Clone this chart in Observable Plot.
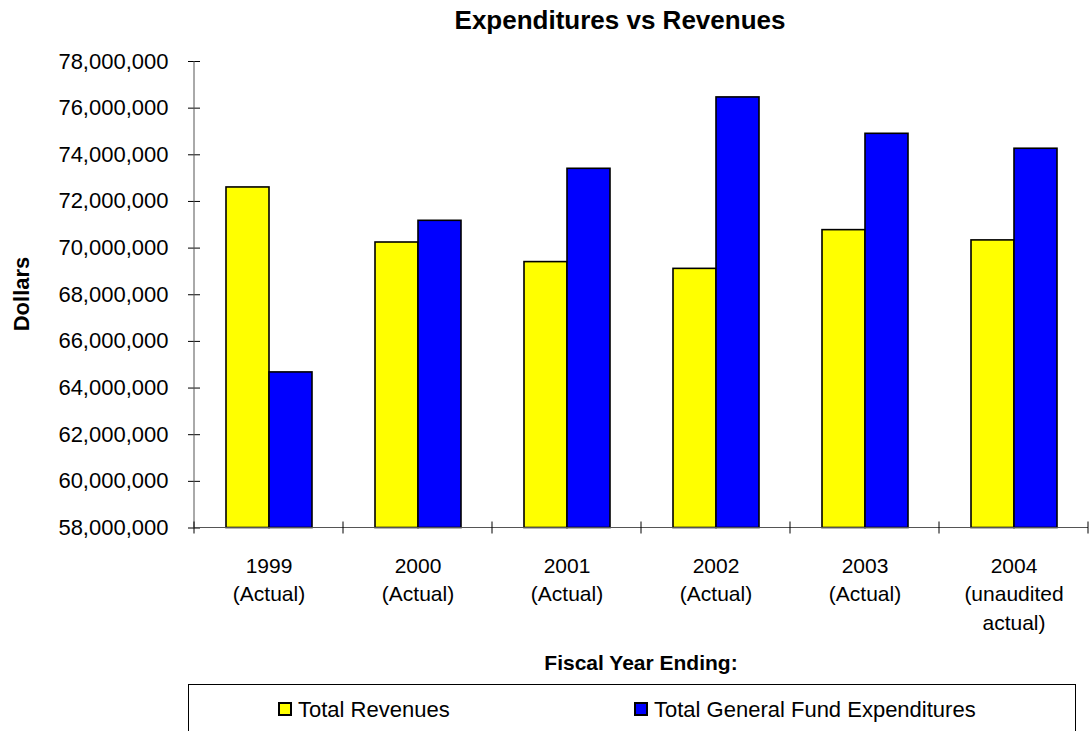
<!DOCTYPE html>
<html>
<head>
<meta charset="utf-8">
<script src="https://cdn.jsdelivr.net/npm/d3@7"></script>
<script src="https://cdn.jsdelivr.net/npm/@observablehq/plot@0.6"></script>
<style>
  html, body { margin: 0; padding: 0; background: #fff; }
  body { width: 1090px; height: 731px; position: relative; overflow: hidden;
         font-family: "Liberation Sans", Arial, sans-serif; color: #000; }
  #title { position: absolute; left: 620px; top: 7px; transform: translateX(-50%);
           font-weight: bold; font-size: 26px; line-height: 26px; white-space: nowrap; }
  #ylabel { position: absolute; left: 22px; top: 294px; transform: translate(-50%, -50%) rotate(-90deg);
            font-weight: bold; font-size: 22px; line-height: 22px; white-space: nowrap; }
  #chart { position: absolute; left: 0; top: 40px; }
  #xlabel { position: absolute; left: 641px; top: 652px; transform: translateX(-50%);
            font-weight: bold; font-size: 21px; line-height: 22px; white-space: nowrap; }
  #legend { position: absolute; left: 188px; top: 684px; width: 888px; height: 60px;
            border: 1px solid #000; box-sizing: border-box; }
  .item { position: absolute; top: 14px; font-size: 22px; line-height: 22px; white-space: nowrap; }
  .sw { display: inline-block; width: 10px; height: 10px; border: 2px solid #000;
        vertical-align: 1px; margin-right: 6px; }
</style>
</head>
<body>
<div id="title"></div>
<div id="ylabel"></div>
<div id="chart"></div>
<div id="xlabel"></div>
<div id="legend"></div>
<script>
// ---- Data ----
const categories = ["1999", "2000", "2001", "2002", "2003", "2004"];
const categoryNotes = ["(Actual)", "(Actual)", "(Actual)", "(Actual)", "(Actual)", "(unaudited\nactual)"];
const seriesNames = ["Total Revenues", "Total General Fund Expenditures"];
const revenues = [72600000, 70240000, 69400000, 69110000, 70770000, 70330000];
const expenditures = [64670000, 71170000, 73400000, 76460000, 74900000, 74260000];
const seriesColors = ["#FFFF00", "#0000FF"];
const yTicks = [58000000, 60000000, 62000000, 64000000, 66000000, 68000000,
                70000000, 72000000, 74000000, 76000000, 78000000];
const titleText = "Expenditures vs Revenues";
const yTitle = "Dollars";
const xTitle = "Fiscal Year Ending:";

const yMin = yTicks[0], yMax = yTicks[yTicks.length - 1];
const seriesValues = [revenues, expenditures];
const table = categories.flatMap((c, i) =>
  seriesNames.map((s, j) => ({year: c, series: s, value: seriesValues[j][i]})));
const labelOf = new Map(categories.map((c, i) => [c, c + "\n" + categoryNotes[i]]));

document.getElementById("title").textContent = titleText;
document.getElementById("ylabel").textContent = yTitle;
document.getElementById("xlabel").textContent = xTitle;

const chart = Plot.plot({
  width: 1090,
  height: 640,
  marginLeft: 193,
  marginRight: 1,
  marginTop: 21,
  marginBottom: 152.5,
  style: {fontFamily: "Liberation Sans, Arial, sans-serif", fontSize: "22px", color: "#000", background: "transparent"},
  fx: {domain: categories, padding: 0, label: null},
  x: {domain: seriesNames, paddingInner: 0, paddingOuter: 0.73, axis: null},
  y: {domain: [yMin, yMax], label: null},
  color: {domain: seriesNames, range: seriesColors},
  marks: [
    Plot.barY(table, {fx: "year", x: "series", y1: yMin, y2: "value", fill: "series",
                      stroke: "#000", strokeWidth: 1.6}),
    Plot.axisY({ticks: yTicks, tickFormat: d3.format(","), tickSize: 12, dx: 6, tickPadding: 20,
                fontSize: 22, label: null, stroke: "#000"}),
    Plot.axisFx({anchor: "bottom", tickSize: 0, tickPadding: 25, fontSize: 21, lineHeight: 1.35,
                 tickFormat: d => labelOf.get(d), label: null})
  ]
});
document.getElementById("chart").appendChild(chart);

// axis lines and category separator ticks, placed through Plot's own scales
const fxS = chart.scale("fx"), yS = chart.scale("y");
const xLeft = fxS.apply(categories[0]);
const xRight = fxS.apply(categories[categories.length - 1]) + fxS.bandwidth;
const yBottom = yS.apply(yMin), yTop = yS.apply(yMax);
const g = d3.select(chart).append("g").attr("stroke", "#000").attr("stroke-width", 1);
g.append("line").attr("x1", xLeft).attr("x2", xLeft).attr("y1", yTop).attr("y2", yBottom).attr("stroke", "#555");
g.append("line").attr("x1", xLeft).attr("x2", xRight).attr("y1", yBottom).attr("y2", yBottom).attr("stroke", "#555");
const bounds = categories.map(c => fxS.apply(c)).concat([xRight]);
g.selectAll("line.sep").data(bounds).join("line").attr("class", "sep")
  .attr("x1", d => d).attr("x2", d => d).attr("y1", yBottom - 6).attr("y2", yBottom + 6);

// legend
const legend = document.getElementById("legend");
const legendLeft = [89, 445];
seriesNames.forEach((s, i) => {
  const item = document.createElement("div");
  item.className = "item";
  item.style.left = legendLeft[i] + "px";
  const sw = document.createElement("span");
  sw.className = "sw";
  sw.style.background = seriesColors[i];
  item.appendChild(sw);
  item.appendChild(document.createTextNode(s));
  legend.appendChild(item);
});
</script>
</body>
</html>
